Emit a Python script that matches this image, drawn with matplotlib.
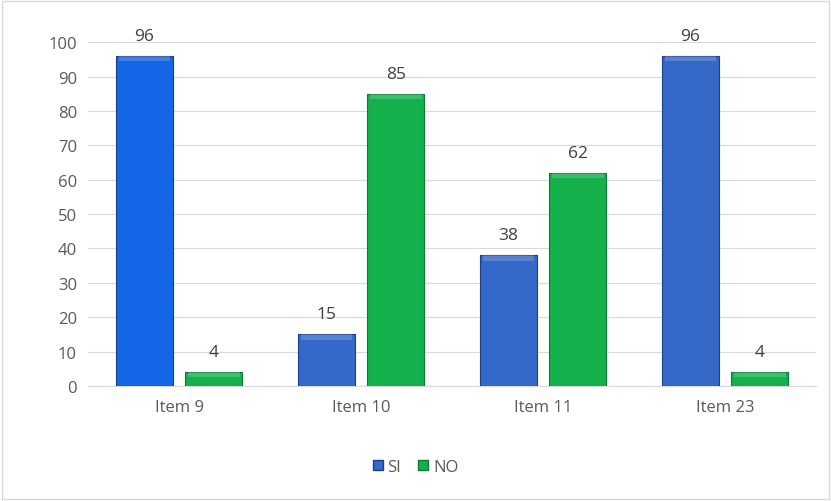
import numpy as np
import matplotlib
matplotlib.use('Agg')
import matplotlib.pyplot as plt
from matplotlib.patches import Rectangle, Patch

plt.rcParams['font.family'] = ['Open Sans', 'DejaVu Sans']

# ---- data ----
items = ['Item 9', 'Item 10', 'Item 11', 'Item 23']
si_vals = [96, 15, 38, 96]
no_vals = [4, 85, 62, 4]
si_colors = ['#1466E6', '#3568C9', '#3568C9', '#3568C9']
no_color = '#14B04C'

fig = plt.figure(figsize=(8.31, 5.02), dpi=100)
ax = fig.add_axes([0.106, 0.229, 0.876, 0.685])

x = np.arange(len(items))
w = 0.31
off = 0.19


def bevel_bars(xs, vals, colors):
    for xi, v, c in zip(xs, vals, colors):
        ax.bar(xi, v, w, color=c, edgecolor='#1b3f86' if c != no_color else '#0b7a33',
               linewidth=0.8, zorder=3)
        cap = min(1.5, v * 0.4)
        ax.bar(xi, cap, w * 0.92, bottom=v - cap, color='white', alpha=0.18,
               linewidth=0, zorder=4)


bevel_bars(x - off, si_vals, si_colors)
bevel_bars(x + off, no_vals, [no_color] * len(items))

for xi, v in zip(x - off, si_vals):
    ax.text(xi, v + 3.5, str(v), ha='center', va='bottom', fontsize=12.5, color='#404040')
for xi, v in zip(x + off, no_vals):
    ax.text(xi, v + 3.5, str(v), ha='center', va='bottom', fontsize=12.5, color='#404040')

ax.set_xlim(-0.5, len(items) - 0.5)
ax.set_ylim(0, 100)
ax.set_yticks(range(0, 101, 10))
ax.set_xticks(x)
ax.set_xticklabels(items)
ax.tick_params(axis='both', length=0, labelsize=12, colors='#595959', pad=9)
ax.tick_params(axis='y', pad=8)
ax.yaxis.grid(True, color='#d9d9d9', linewidth=0.8, zorder=0)
ax.set_axisbelow(True)
for s in ['top', 'right', 'left']:
    ax.spines[s].set_visible(False)
ax.spines['bottom'].set_color('#d9d9d9')

handles = [Patch(facecolor='#3568C9', edgecolor='#1b3f86', label='SI'),
           Patch(facecolor=no_color, edgecolor='#0b7a33', label='NO')]
fig.legend(handles=handles, loc='center', bbox_to_anchor=(0.5, 0.068), ncol=2,
           frameon=False, fontsize=12, handlelength=0.6, handleheight=0.6,
           handletextpad=0.3, columnspacing=1.0, labelcolor='#595959')

fig.add_artist(Rectangle((0.002, 0.003), 0.995, 0.994, transform=fig.transFigure,
                         fill=False, edgecolor='#d9d9d9', linewidth=1))

plt.savefig('out.png', dpi=100)
